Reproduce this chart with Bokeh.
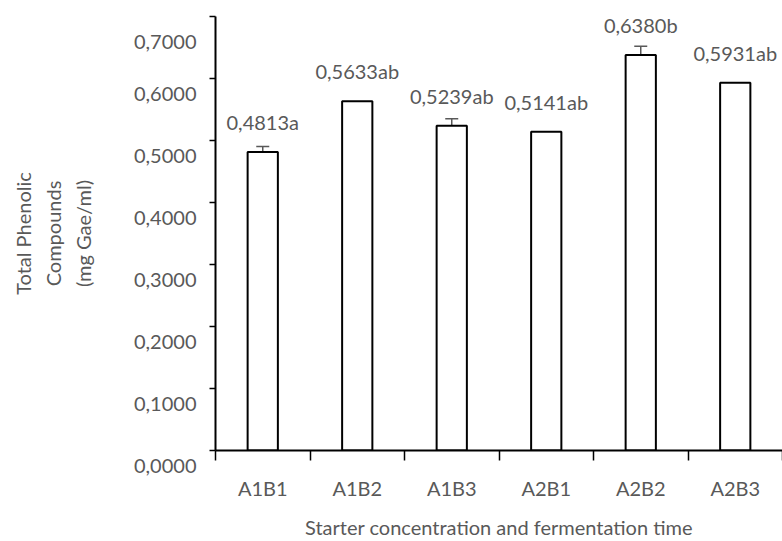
from bokeh.plotting import figure
from bokeh.models import FixedTicker, Range1d, ColumnDataSource, Whisker, TeeHead
from bokeh.core.properties import value
from bokeh.embed import file_html
from bokeh.resources import INLINE

categories = ["A1B1", "A1B2", "A1B3", "A2B1", "A2B2", "A2B3"]
values = [0.4813, 0.5633, 0.5239, 0.5141, 0.6380, 0.5931]
letters = ["a", "ab", "ab", "ab", "b", "ab"]
errors = [0.009, 0.0, 0.011, 0.0, 0.014, 0.0]
y_ticks = [0.0, 0.1, 0.2, 0.3, 0.4, 0.5, 0.6, 0.7]
y_tick_labels = ["0,0000", "0,1000", "0,2000", "0,3000", "0,4000", "0,5000", "0,6000", "0,7000"]

FONT = "Lato"
GRAY = "#595959"

xs = [i + 0.5 for i in range(len(categories))]
labels = [f"{v:.4f}".replace(".", ",") + l for v, l in zip(values, letters)]

p = figure(width=782, height=541, output_backend="svg", toolbar_location=None,
           x_range=Range1d(0, len(categories)), y_range=Range1d(0, 0.7),
           min_border_left=215, min_border_right=0, min_border_top=16, min_border_bottom=89)
p.outline_line_color = None
p.xgrid.visible = False
p.ygrid.visible = False

src = ColumnDataSource(dict(x=xs, top=values, label=labels))
p.vbar(x="x", top="top", width=0.32, bottom=0, source=src,
       fill_color="white", line_color="black", line_width=2)

ex = [x for x, e in zip(xs, errors) if e > 0]
eu = [v + e for v, e in zip(values, errors) if e > 0]
el = [v - e for v, e in zip(values, errors) if e > 0]
esrc = ColumnDataSource(dict(x=ex, upper=eu, lower=el))
w = Whisker(base="x", upper="upper", lower="lower", source=esrc,
            line_color=GRAY, line_width=1.5,
            upper_head=TeeHead(size=13, line_color=GRAY, line_width=1.5),
            lower_head=TeeHead(size=13, line_color=GRAY, line_width=1.5))
p.add_layout(w)

p.text(x="x", y="top", text="label", source=src, y_offset=-30,
       text_align="center", text_baseline="middle",
       text_font=value(FONT), text_font_size="20px", text_color=GRAY)

# x axis
xa = p.xaxis[0]
xa.ticker = FixedTicker(ticks=xs, minor_ticks=list(range(len(categories) + 1)))
xa.major_label_overrides = {x: c for x, c in zip(xs, categories)}
xa.major_tick_out = 0
xa.major_tick_in = 0
xa.minor_tick_out = 10
xa.minor_tick_in = 0
xa.minor_tick_line_color = "black"
xa.minor_tick_line_width = 1.5
xa.axis_line_color = "black"
xa.axis_line_width = 2
xa.major_label_standoff = 15
xa.major_label_text_font = FONT
xa.major_label_text_font_size = "20px"
xa.major_label_text_color = GRAY
xa.axis_label = "Starter concentration and fermentation time"
xa.axis_label_text_font = FONT
xa.axis_label_text_font_size = "20px"
xa.axis_label_text_font_style = "normal"
xa.axis_label_text_color = GRAY
xa.axis_label_standoff = 12

# y axis
ya = p.yaxis[0]
ya.ticker = FixedTicker(ticks=y_ticks, minor_ticks=[])
ya.major_label_overrides = {t: "\n" + l for t, l in zip(y_ticks, y_tick_labels)}
ya.major_tick_out = 6
ya.major_tick_in = 0
ya.major_tick_line_color = "black"
ya.major_tick_line_width = 1.5
ya.axis_line_color = "black"
ya.axis_line_width = 2
ya.major_label_standoff = 13
ya.major_label_text_font = FONT
ya.major_label_text_font_size = "20px"
ya.major_label_text_color = GRAY
ya.axis_label = "Total Phenolic\nCompounds\n(mg Gae/ml)"
ya.axis_label_text_font = FONT
ya.axis_label_text_font_size = "20px"
ya.axis_label_text_font_style = "normal"
ya.axis_label_text_color = GRAY
ya.axis_label_text_line_height = 1.25
ya.axis_label_standoff = 36

open("out.html", "w").write(file_html(p, INLINE))
